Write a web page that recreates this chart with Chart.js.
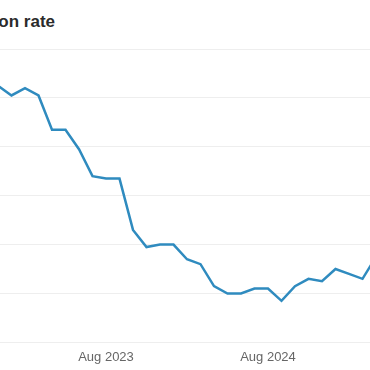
<!DOCTYPE html>
<html>
<head>
<meta charset="utf-8">
<script src="https://cdn.jsdelivr.net/npm/chart.js@4.4.1/dist/chart.umd.min.js"></script>
<style>
  html, body { margin: 0; padding: 0; background: #fff; }
  #wrap { position: relative; width: 370px; height: 370px; overflow: hidden; background: #fff; }
  #title { position: absolute; right: 315px; top: 12px; white-space: nowrap;
           font-family: "Liberation Sans", Arial, sans-serif; font-weight: bold; font-size: 17px;
           color: #2b2b2b; line-height: 20px; }
  #c { position: absolute; left: -20px; top: 0; }
</style>
</head>
<body>
<div id="wrap">
  <div id="title">Inflation rate</div>
  <canvas id="c" width="410" height="379"></canvas>
</div>
<script>
const months = ["Dec 2022","Jan 2023","Feb 2023","Mar 2023","Apr 2023","May 2023","Jun 2023","Jul 2023","Aug 2023","Sep 2023","Oct 2023","Nov 2023","Dec 2023","Jan 2024","Feb 2024","Mar 2024","Apr 2024","May 2024","Jun 2024","Jul 2024","Aug 2024","Sep 2024","Oct 2024","Nov 2024","Dec 2024","Jan 2025","Feb 2025","Mar 2025","Apr 2025"];
const inflation = [10.5,10.1,10.4,10.1,8.7,8.7,7.9,6.8,6.7,6.7,4.6,3.9,4.0,4.0,3.4,3.2,2.3,2.0,2.0,2.2,2.2,1.7,2.3,2.6,2.5,3.0,2.8,2.6,3.5];
const shownTicks = ["Aug 2023","Aug 2024"];
const yMin = 0, yMax = 12, yStep = 2;

new Chart(document.getElementById('c'), {
  type: 'line',
  data: {
    labels: months,
    datasets: [{
      data: inflation,
      borderColor: '#2f8bbf',
      borderWidth: 2.5,
      pointRadius: 0,
      tension: 0,
      fill: false
    }]
  },
  options: {
    responsive: false,
    animation: false,
    layout: { padding: { left: 18, right: 14, top: 49, bottom: 7 } },
    plugins: { legend: { display: false }, tooltip: { enabled: false }, title: { display: false } },
    scales: {
      x: {
        offset: false,
        grid: { display: false, drawTicks: false },
        border: { display: false },
        ticks: {
          autoSkip: false, maxRotation: 0, padding: 7,
          color: '#666', font: { family: "'Liberation Sans', Arial, sans-serif", size: 13 },
          callback: function(v, i) { const l = this.getLabelForValue(v); return shownTicks.includes(l) ? l : ''; }
        }
      },
      y: {
        min: yMin, max: yMax,
        grid: { color: '#eeeeee', lineWidth: 1, drawTicks: false },
        border: { display: false },
        ticks: { display: false, stepSize: yStep }
      }
    }
  }
});
</script>
</body>
</html>
